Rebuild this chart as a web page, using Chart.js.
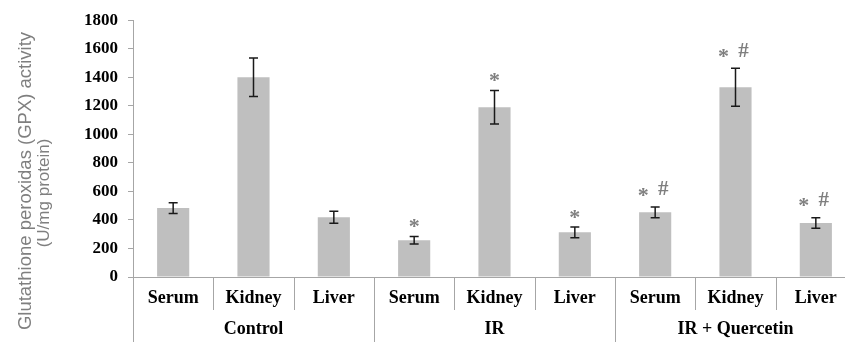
<!DOCTYPE html>
<html>
<head>
<meta charset="utf-8">
<script src="https://cdn.jsdelivr.net/npm/chart.js@4/dist/chart.umd.min.js"></script>
<style>
  html, body { margin: 0; padding: 0; background: #fff; overflow: hidden; }
</style>
</head>
<body>
<canvas id="gpx" width="860" height="342"></canvas>
<script>
// data
const tissues = ['Serum', 'Kidney', 'Liver', 'Serum', 'Kidney', 'Liver', 'Serum', 'Kidney', 'Liver'];
const groups = ['Control', 'IR', 'IR + Quercetin'];
const gpxMean = [483, 1400, 418, 258, 1190, 313, 453, 1330, 378];
const gpxSd = [38, 135, 42, 26, 118, 38, 38, 133, 37];
const marks = ['', '', '', '*', '*', '*', '* #', '* #', '* #'];
const yTicks = [0, 200, 400, 600, 800, 1000, 1200, 1400, 1600, 1800];

const SERIF = '"Liberation Serif", "Times New Roman", serif';
const SANS = '"Liberation Sans", Arial, sans-serif';
const AXIS = '#a6a6a6';

// error bars, significance marks, group labels, dividers, y title
const extras = {
  id: 'extras',
  afterDatasetsDraw(chart) {
    const ctx = chart.ctx;
    const x = chart.scales.x;
    const y = chart.scales.y;
    const meta = chart.getDatasetMeta(0);
    const area = chart.chartArea;

    ctx.save();
    // error bars
    ctx.strokeStyle = '#1a1a1a';
    ctx.lineWidth = 1.5;
    meta.data.forEach((bar, i) => {
      const top = y.getPixelForValue(gpxMean[i] + gpxSd[i]);
      const bot = y.getPixelForValue(gpxMean[i] - gpxSd[i]);
      const cx = bar.x;
      ctx.beginPath();
      ctx.moveTo(cx, top); ctx.lineTo(cx, bot);
      ctx.moveTo(cx - 4.5, top); ctx.lineTo(cx + 4.5, top);
      ctx.moveTo(cx - 4.5, bot); ctx.lineTo(cx + 4.5, bot);
      ctx.stroke();

      // marks
      const m = marks[i];
      if (!m) return;
      ctx.fillStyle = '#7f7f7f';
      ctx.textAlign = 'center';
      ctx.textBaseline = 'middle';
      if (m.includes('#')) {
        ctx.font = 'bold 22px ' + SERIF;
        ctx.fillText('*', cx - 12, top - 11);
        ctx.font = 'bold 21px ' + SERIF;
        ctx.fillText('#', cx + 8, top - 17);
      } else {
        ctx.font = 'bold 22px ' + SERIF;
        ctx.fillText('*', cx, top - 9);
      }
    });

    // category dividers below the axis
    ctx.strokeStyle = AXIS;
    ctx.lineWidth = 1;
    const half = (x.getPixelForValue(1) - x.getPixelForValue(0)) / 2;
    for (let i = -1; i < tissues.length; i++) {
      const px = Math.round(x.getPixelForValue(i < 0 ? 0 : i) + (i < 0 ? -half : half)) + 0.5;
      const long = (i + 1) % 3 === 0;
      ctx.beginPath();
      ctx.moveTo(px, area.bottom);
      ctx.lineTo(px, long ? chart.height : area.bottom + 33);
      ctx.stroke();
    }

    // group labels
    ctx.fillStyle = '#000';
    ctx.font = 'bold 18px ' + SERIF;
    ctx.textAlign = 'center';
    ctx.textBaseline = 'middle';
    groups.forEach((g, k) => {
      ctx.fillText(g, x.getPixelForValue(k * 3 + 1), 329);
    });

    // y axis title
    ctx.fillStyle = '#7f7f7f';
    ctx.translate(26, 181);
    ctx.rotate(-Math.PI / 2);
    ctx.font = '18.5px ' + SANS;
    ctx.fillText('Glutathione peroxidas (GPX) activity', 0, 0);
    ctx.font = '17px ' + SANS;
    ctx.fillText('(U/mg protein)', -12, 18);
    ctx.restore();
  }
};

new Chart(document.getElementById('gpx'), {
  type: 'bar',
  data: {
    labels: tissues,
    datasets: [{
      data: gpxMean,
      backgroundColor: '#bfbfbf',
      borderWidth: 0,
      categoryPercentage: 1,
      barPercentage: 0.4
    }]
  },
  options: {
    responsive: false,
    animation: false,
    layout: { padding: { top: 16, right: 4, left: 0, bottom: 0 } },
    plugins: {
      legend: { display: false },
      tooltip: { enabled: false }
    },
    scales: {
      x: {
        grid: { display: false, drawTicks: false },
        border: { color: AXIS, width: 1 },
        ticks: {
          color: '#000',
          font: { family: SERIF, size: 18, weight: 'bold' },
          padding: 11,
          maxRotation: 0,
          autoSkip: false
        },
        afterFit(scale) { scale.height = 65; }
      },
      y: {
        min: 0,
        max: 1800,
        afterBuildTicks(scale) { scale.ticks = yTicks.map(v => ({ value: v })); },
        grid: { drawOnChartArea: false, tickLength: 5, color: AXIS },
        border: { color: AXIS, width: 1 },
        ticks: {
          color: '#000',
          font: { family: SERIF, size: 17, weight: 'bold' },
          padding: 10,
          callback: v => String(v)
        },
        afterFit(scale) { scale.width = 133; }
      }
    }
  },
  plugins: [extras]
});
</script>
</body>
</html>
